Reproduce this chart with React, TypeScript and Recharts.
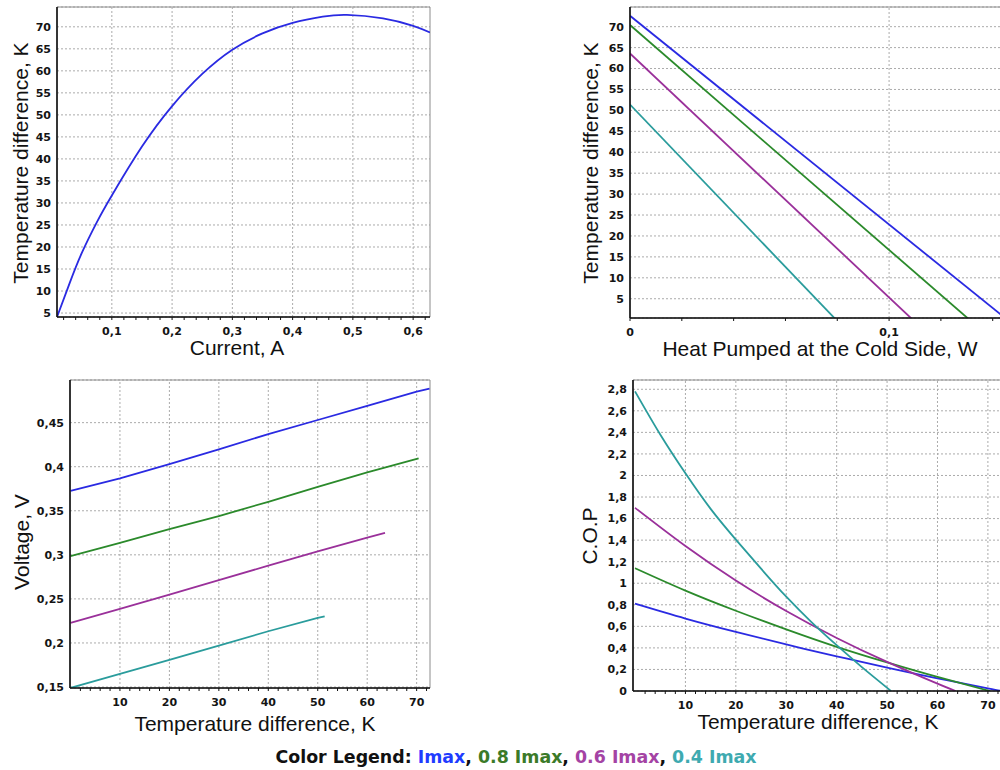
import React from 'react';
import { LineChart, Line, XAxis, YAxis, CartesianGrid, ReferenceLine, ReferenceArea } from 'recharts';

// ---------- colours ----------
const LINE_BLUE = '#2a2ae2';
const LINE_GREEN = '#2b8a2b';
const LINE_PURPLE = '#9a309a';
const LINE_TEAL = '#2a9c9c';

// ---------- panel 1: Temperature difference vs Current ----------
const CURRENT_A = [0.009, 0.03, 0.05, 0.075, 0.1, 0.15, 0.2, 0.25, 0.3, 0.35, 0.4, 0.45, 0.49, 0.55, 0.6, 0.628];
const CURRENT_DT = [4.1, 11.8, 18.6, 25.6, 31.7, 42.8, 52.0, 59.3, 64.8, 68.5, 70.9, 72.3, 72.7, 71.9, 70.2, 68.7];
const P1_X_MAJOR = [0.1, 0.2, 0.3, 0.4, 0.5, 0.6];
const P1_X_MINOR = [0.02, 0.04, 0.06, 0.08, 0.12, 0.14, 0.16, 0.18, 0.22, 0.24, 0.26, 0.28, 0.32, 0.34, 0.36, 0.38, 0.42, 0.44, 0.46, 0.48, 0.52, 0.54, 0.56, 0.58, 0.62];
const P1_Y_TICKS = [5, 10, 15, 20, 25, 30, 35, 40, 45, 50, 55, 60, 65, 70];

// ---------- panel 2: Temperature difference vs Heat pumped ----------
const QC_BLUE = [0, 0.1456];
const QC_BLUE_DT = [72.6, 0];
const QC_GREEN = [0, 0.131];
const QC_GREEN_DT = [70.4, 0];
const QC_PURPLE = [0, 0.1091];
const QC_PURPLE_DT = [63.6, 0];
const QC_TEAL = [0, 0.0795];
const QC_TEAL_DT = [51.4, 0];
const P2_X_MAJOR = [0, 0.1];
const P2_X_MINOR = [0.02, 0.04, 0.06, 0.08, 0.12, 0.14];
const P2_X_GRID = [0.1];
const P2_Y_TICKS = [5, 10, 15, 20, 25, 30, 35, 40, 45, 50, 55, 60, 65, 70];

// ---------- panel 3: Voltage vs Temperature difference ----------
const V_BLUE_DT = [0, 10, 20, 30, 40, 50, 60, 70, 72.6];
const V_BLUE = [0.3727, 0.3867, 0.403, 0.4197, 0.437, 0.453, 0.469, 0.4852, 0.4885];
const V_GREEN_DT = [0, 10, 20, 30, 40, 50, 60, 70.4];
const V_GREEN = [0.2985, 0.3136, 0.3292, 0.344, 0.3602, 0.377, 0.3935, 0.4095];
const V_PURPLE_DT = [0, 10, 20, 30, 40, 50, 60, 63.6];
const V_PURPLE = [0.2227, 0.2386, 0.2549, 0.2712, 0.2877, 0.304, 0.3195, 0.325];
const V_TEAL_DT = [0, 10, 20, 30, 40, 50, 51.4];
const V_TEAL = [0.149, 0.1648, 0.1807, 0.197, 0.2133, 0.2284, 0.2303];
const DT_X_MAJOR = [10, 20, 30, 40, 50, 60, 70];
const DT_X_MINOR = [2, 4, 6, 8, 12, 14, 16, 18, 22, 24, 26, 28, 32, 34, 36, 38, 42, 44, 46, 48, 52, 54, 56, 58, 62, 64, 66, 68, 72];
const P3_Y_TICKS = [0.15, 0.2, 0.25, 0.3, 0.35, 0.4, 0.45];

// ---------- panel 4: C.O.P vs Temperature difference ----------
const COP_BLUE_DT = [0, 10, 20, 30, 40, 50, 60, 70, 72.6];
const COP_BLUE = [0.81, 0.672, 0.548, 0.432, 0.322, 0.218, 0.118, 0.025, 0];
const COP_GREEN_DT = [0, 10, 20, 30, 40, 50, 60, 70.4];
const COP_GREEN = [1.14, 0.932, 0.745, 0.572, 0.41, 0.265, 0.13, 0];
const COP_PURPLE_DT = [0, 10, 20, 30, 40, 50, 60, 63.6];
const COP_PURPLE = [1.7, 1.345, 1.025, 0.742, 0.492, 0.27, 0.068, 0];
const COP_TEAL_DT = [0, 5, 10, 15, 20, 25, 30, 35, 40, 45, 50.8];
const COP_TEAL = [2.78, 2.38, 2.02, 1.69, 1.405, 1.135, 0.875, 0.64, 0.425, 0.222, 0];
const P4_Y_TICKS = [0, 0.2, 0.4, 0.6, 0.8, 1, 1.2, 1.4, 1.6, 1.8, 2, 2.2, 2.4, 2.6, 2.8];

// ---------- legend ----------
const LEGEND_ITEMS = [
  { label: 'Imax', color: '#1f3cff' },
  { label: '0.8 Imax', color: '#3b7a28' },
  { label: '0.6 Imax', color: '#a443a4' },
  { label: '0.4 Imax', color: '#3eaab0' },
];

const zip = (xs: number[], ys: number[]) => xs.map((x, i) => ({ x, y: ys[i] }));
const fmt = (v: number) => String(v).replace('.', ',');

const TICK_STYLE = {
  fontSize: 11,
  fontWeight: 700,
  fill: '#141414',
  fontFamily: '"DejaVu Sans", Verdana, sans-serif',
};
const GRID = '#ababab';
const AXIS = '#111111';

type Series = { color: string; data: { x: number; y: number }[] };

type PanelProps = {
  sx: number; sy: number; w: number; h: number;
  bx0: number; by0: number; bx1: number; by1: number;
  xDomain: [number, number]; yDomain: [number, number];
  xMajors: number[]; xMinors: number[]; xGrid: number[]; yTicks: number[];
  series: Series[]; curve: 'natural' | 'linear';
};

function Panel(p: PanelProps) {
  const ticks = [...p.xMajors, ...p.xMinors].sort((a, b) => a - b);
  const xFmt = (v: number) => (p.xMajors.some((m) => Math.abs(m - v) < 1e-9) ? fmt(v) : '');
  return (
    <div style={{ position: 'absolute', left: p.sx, top: p.sy }}>
      <LineChart
        width={p.w}
        height={p.h}
        margin={{ top: p.by0 - p.sy, right: p.sx + p.w - p.bx1, left: 0, bottom: 0 }}
      >
        <CartesianGrid vertical={false} stroke={GRID} strokeDasharray="2 2" />
        {p.xGrid.map((v) => (
          <ReferenceLine key={v} x={v} stroke={GRID} strokeDasharray="2 2" />
        ))}
        <ReferenceArea
          x1={p.xDomain[0]}
          x2={p.xDomain[1]}
          y1={p.yDomain[0]}
          y2={p.yDomain[1]}
          fill="none"
          fillOpacity={0}
          stroke="#8c8c8c"
          strokeWidth={1}
        />
        <XAxis
          type="number"
          dataKey="x"
          domain={p.xDomain}
          allowDataOverflow
          ticks={ticks}
          interval={0}
          tickFormatter={xFmt}
          tickSize={3}
          tickMargin={7}
          height={p.sy + p.h - p.by1}
          axisLine={{ stroke: AXIS, strokeWidth: 1.6 }}
          tickLine={{ stroke: AXIS }}
          tick={TICK_STYLE}
        />
        <YAxis
          type="number"
          dataKey="y"
          domain={p.yDomain}
          allowDataOverflow
          ticks={p.yTicks}
          interval={0}
          tickFormatter={fmt}
          width={p.bx0 - p.sx}
          tickSize={0}
          tickMargin={6}
          tickLine={false}
          axisLine={{ stroke: AXIS, strokeWidth: 1.6 }}
          tick={TICK_STYLE}
        />
        {p.series.map((s, i) => (
          <Line
            key={i}
            data={s.data}
            dataKey="y"
            type={p.curve}
            stroke={s.color}
            strokeWidth={1.8}
            dot={false}
            activeDot={false}
            isAnimationActive={false}
          />
        ))}
      </LineChart>
    </div>
  );
}

const TITLE_FONT = '"Liberation Sans", Arial, sans-serif';

function Title({ text, cx, cy, rotate }: { text: string; cx: number; cy: number; rotate?: boolean }) {
  return (
    <div
      style={{
        position: 'absolute',
        left: cx,
        top: cy,
        transform: `translate(-50%, -50%)${rotate ? ' rotate(-90deg)' : ''}`,
        fontFamily: TITLE_FONT,
        fontSize: 21,
        color: '#111',
        whiteSpace: 'nowrap',
        lineHeight: 'normal',
      }}
    >
      {text}
    </div>
  );
}

export default function App() {
  const p1: Series[] = [{ color: LINE_BLUE, data: zip(CURRENT_A, CURRENT_DT) }];
  const p2: Series[] = [
    { color: LINE_BLUE, data: zip(QC_BLUE, QC_BLUE_DT) },
    { color: LINE_GREEN, data: zip(QC_GREEN, QC_GREEN_DT) },
    { color: LINE_PURPLE, data: zip(QC_PURPLE, QC_PURPLE_DT) },
    { color: LINE_TEAL, data: zip(QC_TEAL, QC_TEAL_DT) },
  ];
  const p3: Series[] = [
    { color: LINE_BLUE, data: zip(V_BLUE_DT, V_BLUE) },
    { color: LINE_GREEN, data: zip(V_GREEN_DT, V_GREEN) },
    { color: LINE_PURPLE, data: zip(V_PURPLE_DT, V_PURPLE) },
    { color: LINE_TEAL, data: zip(V_TEAL_DT, V_TEAL) },
  ];
  const p4: Series[] = [
    { color: LINE_BLUE, data: zip(COP_BLUE_DT, COP_BLUE) },
    { color: LINE_GREEN, data: zip(COP_GREEN_DT, COP_GREEN) },
    { color: LINE_PURPLE, data: zip(COP_PURPLE_DT, COP_PURPLE) },
    { color: LINE_TEAL, data: zip(COP_TEAL_DT, COP_TEAL) },
  ];

  return (
    <div
      style={{
        position: 'absolute',
        left: 0,
        top: 0,
        width: 1000,
        height: 770,
        overflow: 'hidden',
        background: '#fff',
      }}
    >
      <Panel
        sx={0} sy={0} w={440} h={345}
        bx0={57} by0={7} bx1={430} by1={317}
        xDomain={[0.009, 0.628]} yDomain={[4.1, 74.5]}
        xMajors={P1_X_MAJOR} xMinors={P1_X_MINOR} xGrid={P1_X_MAJOR} yTicks={P1_Y_TICKS}
        series={p1} curve="natural"
      />
      <Panel
        sx={570} sy={0} w={431} h={345}
        bx0={630} by0={7} bx1={1001} by1={318}
        xDomain={[0, 0.1432]} yDomain={[0.4, 74.7]}
        xMajors={P2_X_MAJOR} xMinors={P2_X_MINOR} xGrid={P2_X_GRID} yTicks={P2_Y_TICKS}
        series={p2} curve="linear"
      />
      <Panel
        sx={0} sy={370} w={440} h={345}
        bx0={70} by0={380} bx1={430} by1={688}
        xDomain={[-0.1, 72.7]} yDomain={[0.1489, 0.4984]}
        xMajors={DT_X_MAJOR} xMinors={DT_X_MINOR} xGrid={DT_X_MAJOR} yTicks={P3_Y_TICKS}
        series={p3} curve="linear"
      />
      <Panel
        sx={570} sy={370} w={431} h={345}
        bx0={633} by0={380} bx1={1001} by1={691}
        xDomain={[-0.4, 72.6]} yDomain={[0, 2.886]}
        xMajors={DT_X_MAJOR} xMinors={DT_X_MINOR} xGrid={DT_X_MAJOR} yTicks={P4_Y_TICKS}
        series={p4} curve="natural"
      />

      <Title text="Temperature difference, K" cx={21} cy={163} rotate />
      <Title text="Current, A" cx={237} cy={348} />
      <Title text="Temperature difference, K" cx={591} cy={163} rotate />
      <Title text="Heat Pumped at the Cold Side, W" cx={820} cy={349} />
      <Title text="Voltage, V" cx={22} cy={542} rotate />
      <Title text="Temperature difference, K" cx={255} cy={724} />
      <Title text="C.O.P" cx={590} cy={536} rotate />
      <Title text="Temperature difference, K" cx={818} cy={722} />

      <div
        style={{
          position: 'absolute',
          left: 516,
          top: 757,
          transform: 'translate(-50%, -50%)',
          fontFamily: '"DejaVu Sans", Verdana, sans-serif',
          fontWeight: 700,
          fontSize: 17.4,
          color: '#111',
          whiteSpace: 'nowrap',
        }}
      >
        Color Legend:{' '}
        {LEGEND_ITEMS.map((it, i) => (
          <React.Fragment key={it.label}>
            <span style={{ color: it.color }}>{it.label}</span>
            {i < LEGEND_ITEMS.length - 1 ? ', ' : ''}
          </React.Fragment>
        ))}
      </div>
    </div>
  );
}
